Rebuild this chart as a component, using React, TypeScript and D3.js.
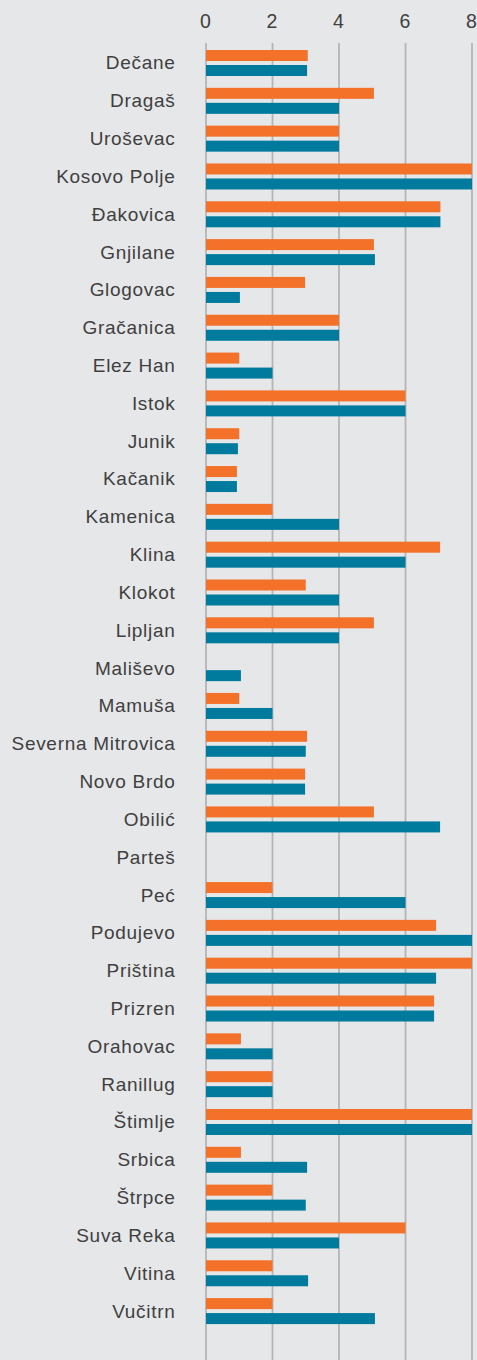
import React from 'react';
import * as d3 from 'd3';

const categories = [
  'Dečane', 'Dragaš', 'Uroševac', 'Kosovo Polje', 'Đakovica', 'Gnjilane', 'Glogovac',
  'Gračanica', 'Elez Han', 'Istok', 'Junik', 'Kačanik', 'Kamenica', 'Klina', 'Klokot',
  'Lipljan', 'Mališevo', 'Mamuša', 'Severna Mitrovica', 'Novo Brdo', 'Obilić', 'Parteš',
  'Peć', 'Podujevo', 'Priština', 'Prizren', 'Orahovac', 'Ranillug', 'Štimlje', 'Srbica',
  'Štrpce', 'Suva Reka', 'Vitina', 'Vučitrn',
];

// orange (top bar in each pair)
const seriesOrange = [
  3.06, 5.05, 4, 8, 7.05, 5.05, 2.98, 4, 1, 6, 1, 0.93, 2, 7.04, 3, 5.05, 0, 1, 3.04,
  2.98, 5.05, 0, 2, 6.92, 8, 6.86, 1.05, 2, 8, 1.05, 2, 6, 2, 2,
];

// teal (bottom bar in each pair)
const seriesTeal = [
  3.04, 4, 4, 8, 7.05, 5.08, 1.02, 4, 2, 6, 0.96, 0.93, 4, 6, 4, 4, 1.05, 2, 3, 2.98,
  7.04, 0, 6, 8, 6.92, 6.86, 2, 2, 8, 3.04, 3, 4, 3.07, 5.08,
];

const xTicks = [0, 2, 4, 6, 8];

const W = 477;
const H = 1360;
const FONT = '"Liberation Sans", Arial, Helvetica, sans-serif';

export default function App() {
  const x = d3.scaleLinear().domain([0, 8]).range([206, 472]);
  const y = d3
    .scaleBand<string>()
    .domain(categories)
    .range([44.1, 1330])
    .paddingInner(0.3125)
    .paddingOuter(0.15625);

  const barH = 11;
  const gap = 4;

  return (
    <svg
      width={W}
      height={H}
      style={{ position: 'absolute', left: 0, top: 0, display: 'block' }}
    >
      <rect x={0} y={0} width={W} height={H} fill="#e6e7e9" />

      {/* gridlines */}
      <g>
        {xTicks.map((t) => (
          <line
            key={t}
            x1={x(t)}
            x2={x(t)}
            y1={43}
            y2={H}
            stroke="#b4b5b7"
            strokeWidth={1.8}
          />
        ))}
      </g>

      {/* tick labels */}
      <g fontFamily={FONT} fontSize={19.5} fill="#404040" textAnchor="middle">
        {xTicks.map((t) => (
          <text key={t} x={x(t) - 0.5} y={28}>
            {t}
          </text>
        ))}
      </g>

      {/* bars */}
      <g>
        {categories.map((c, i) => {
          const y0 = y(c) as number;
          return (
            <g key={c}>
              {seriesOrange[i] > 0 && (
                <rect
                  x={x(0)}
                  y={y0}
                  width={x(seriesOrange[i]) - x(0)}
                  height={barH}
                  fill="#f37129"
                />
              )}
              {seriesTeal[i] > 0 && (
                <rect
                  x={x(0)}
                  y={y0 + barH + gap}
                  width={x(seriesTeal[i]) - x(0)}
                  height={barH}
                  fill="#007b9d"
                />
              )}
            </g>
          );
        })}
      </g>

      {/* category labels */}
      <g
        fontFamily={FONT}
        fontSize={19}
        fill="#404040"
        textAnchor="end"
        letterSpacing={0.7}
      >
        {categories.map((c) => (
          <text key={c} x={175.5} y={(y(c) as number) + y.bandwidth() / 2} dy="0.34em">
            {c}
          </text>
        ))}
      </g>
    </svg>
  );
}
